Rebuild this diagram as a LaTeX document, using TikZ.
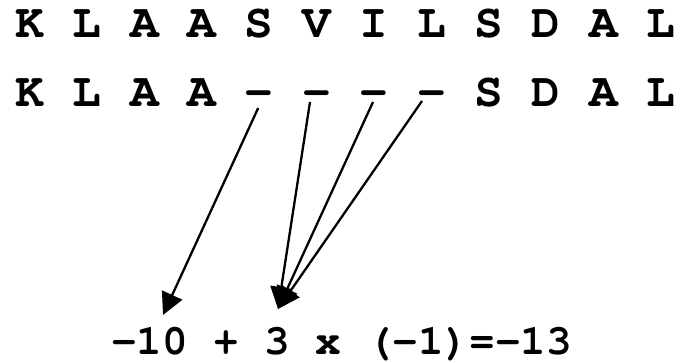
\documentclass[tikz,border=0pt]{standalone}
\usepackage[T1]{fontenc}
\usetikzlibrary{arrows.meta}
\newcommand\topfont{\fontfamily{pcr}\fontseries{b}\fontsize{47.8}{50}\selectfont}
\newcommand\botfont{\fontfamily{pcr}\fontseries{b}\fontsize{42.7}{45}\selectfont}
\begin{document}
\begin{tikzpicture}[x=1pt,y=1pt,
  ch/.style={inner sep=0pt,anchor=base,font=\topfont},
  bch/.style={inner sep=0pt,anchor=base,font=\botfont},
  arr/.style={line width=2.3pt,-{Triangle[length=22pt,width=22pt]}}]
\useasboundingbox (0,0) rectangle (683,363);
\foreach \c [count=\i from 0] in {K,L,A,A,S,V,I,L,S,D,A,L}
  \node[ch] (r1-\i) at ({15.25+(2*\i+0.5)*28.7},325.5) {\c};
\foreach \c [count=\i from 0] in {K,L,A,A,-,-,-,-,S,D,A,L}
  \node[ch] (r2-\i) at ({15.25+(2*\i+0.5)*28.7},256) {\c};
\node[bch] (b1) at (149.6,8) {-10};
\node[bch] (b2) at (226.4,8) {+};
\node[bch] (b3) at (277.6,8) {3};
\node[bch] (b4) at (328.8,8) {x};
\node[bch] (b5) at (469.6,8) {(-1)=-13};
\coordinate (t1) at (163,48);
\coordinate (t2) at (278,54);
\draw[arr] ([shift={(-1,-1)}]r2-4.base) -- (t1);
\draw[arr] ([shift={(-6.6,5)}]r2-5.base) -- (t2);
\draw[arr] ([shift={(-1,5)}]r2-6.base) -- (t2);
\draw[arr] ([shift={(-9.4,6)}]r2-7.base) -- (t2);
\end{tikzpicture}
\end{document}
